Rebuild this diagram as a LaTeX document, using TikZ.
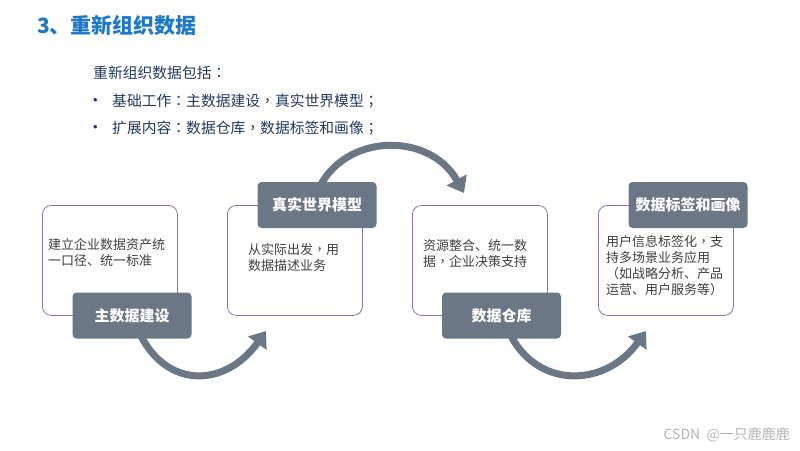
\documentclass[tikz,border=0pt]{standalone}
\usepackage{fontspec}
\setmainfont{Noto Sans CJK SC}
\newfontfamily\cjk{Noto Sans CJK SC}
\newfontfamily\cjkp{Noto Sans CJK TC}
\newfontfamily\bulletfont{Liberation Sans}
\newcommand{\pco}{{\cjkp ：}}
\newcommand{\pcm}{{\cjkp ，}}
\newcommand{\psc}{{\cjkp ；}}
\usetikzlibrary{arrows.meta}
\definecolor{titleblue}{HTML}{1E78C8}
\definecolor{introtxt}{HTML}{243A5E}
\definecolor{boxtxt}{HTML}{404040}
\definecolor{labelgray}{HTML}{6B7785}
\definecolor{boxline}{HTML}{8A72AE}
\definecolor{wm}{HTML}{B4B4B4}
\tikzset{
  infobox/.style={draw=boxline, line width=0.8pt, fill=white, rounded corners=9pt,
    minimum width=135pt, minimum height=110pt, anchor=north west, inner sep=0pt},
  tagbox/.style={fill=labelgray, rounded corners=4pt, minimum width=119pt, minimum height=46pt,
    text=white, font=\cjk\bfseries\fontsize{15}{18}\selectfont, inner sep=0pt},
  boxtext/.style={anchor=north west, align=left, text=boxtxt, inner sep=0pt,
    font=\cjk\fontsize{13}{16}\selectfont},
  introtext/.style={anchor=west, text=introtxt, inner sep=0pt, font=\cjk\fontsize{14.8}{17}\selectfont},
  bigarrow/.style={draw=labelgray, line width=7pt, -{Triangle[width=22pt,length=15pt]}},
}
\begin{document}
\begin{tikzpicture}[x=1pt,y=-1pt]
\useasboundingbox[fill=white] (0,0) rectangle (800,450);

% title and intro
\node[anchor=west, text=titleblue, inner sep=0pt, font=\cjk\bfseries\fontsize{21}{24}\selectfont] (title) at (37,26) {3、重新组织数据};
\node[introtext] (intro) at (93,73) {重新组织数据包括\pco};
\node[introtext, font=\bulletfont\fontsize{13}{15}\selectfont] (b1) at (93,101) {•};
\node[introtext] (i1) at (112,101) {基础工作\pco 主数据建设\pcm 真实世界模型\psc};
\node[introtext, font=\bulletfont\fontsize{13}{15}\selectfont] (b2) at (93,128) {•};
\node[introtext] (i2) at (112,128) {扩展内容\pco 数据仓库\pcm 数据标签和画像\psc};

% arrows (behind)
\coordinate (t1) at (266,331);
\coordinate (t2) at (464,193);
\coordinate (t3) at (646,331);
\coordinate (s1) at (138,330);
\coordinate (s2) at (318,190);
\coordinate (s3) at (508,330);
\draw[bigarrow] (s1) .. controls (165,390) and (225,388) .. (t1);
\draw[bigarrow] (s2) .. controls (345,132) and (430,132) .. (t2);
\draw[bigarrow] (s3) .. controls (535,390) and (605,388) .. (t3);

% boxes
\node[infobox] (box1) at (42,205) {};
\node[infobox] (box2) at (227,205) {};
\node[infobox] (box3) at (412,205) {};
\node[infobox] (box4) at (598,205) {};

\node[boxtext] (tx1) at (48,238) {建立企业数据资产统\\一口径、统一标准};
\node[boxtext] (tx2) at (248,243) {从实际出发\pcm 用\\数据描述业务};
\node[boxtext] (tx3) at (423,239) {资源整合、统一数\\据\pcm 企业决策支持};
\node[boxtext] (tx4) at (606,235) {用户信息标签化\pcm 支\\持多场景业务应用\\{\cjkp （}如战略分析、产品\\运营、用户服务等{\cjkp ）}};

% labels
\node[tagbox] (l1) at (132,315.5) {主数据建设};
\node[tagbox] (l2) at (317,205) {真实世界模型};
\node[tagbox] (l3) at (501.5,315.5) {数据仓库};
\node[tagbox] (l4) at (688,205) {数据标签和画像};

% watermark
\node[anchor=east, text=wm, inner sep=0pt, font=\cjk\fontsize{14}{16}\selectfont] (wmk) at (790,435) {CSDN \ @一只鹿鹿鹿};
\end{tikzpicture}
\end{document}
